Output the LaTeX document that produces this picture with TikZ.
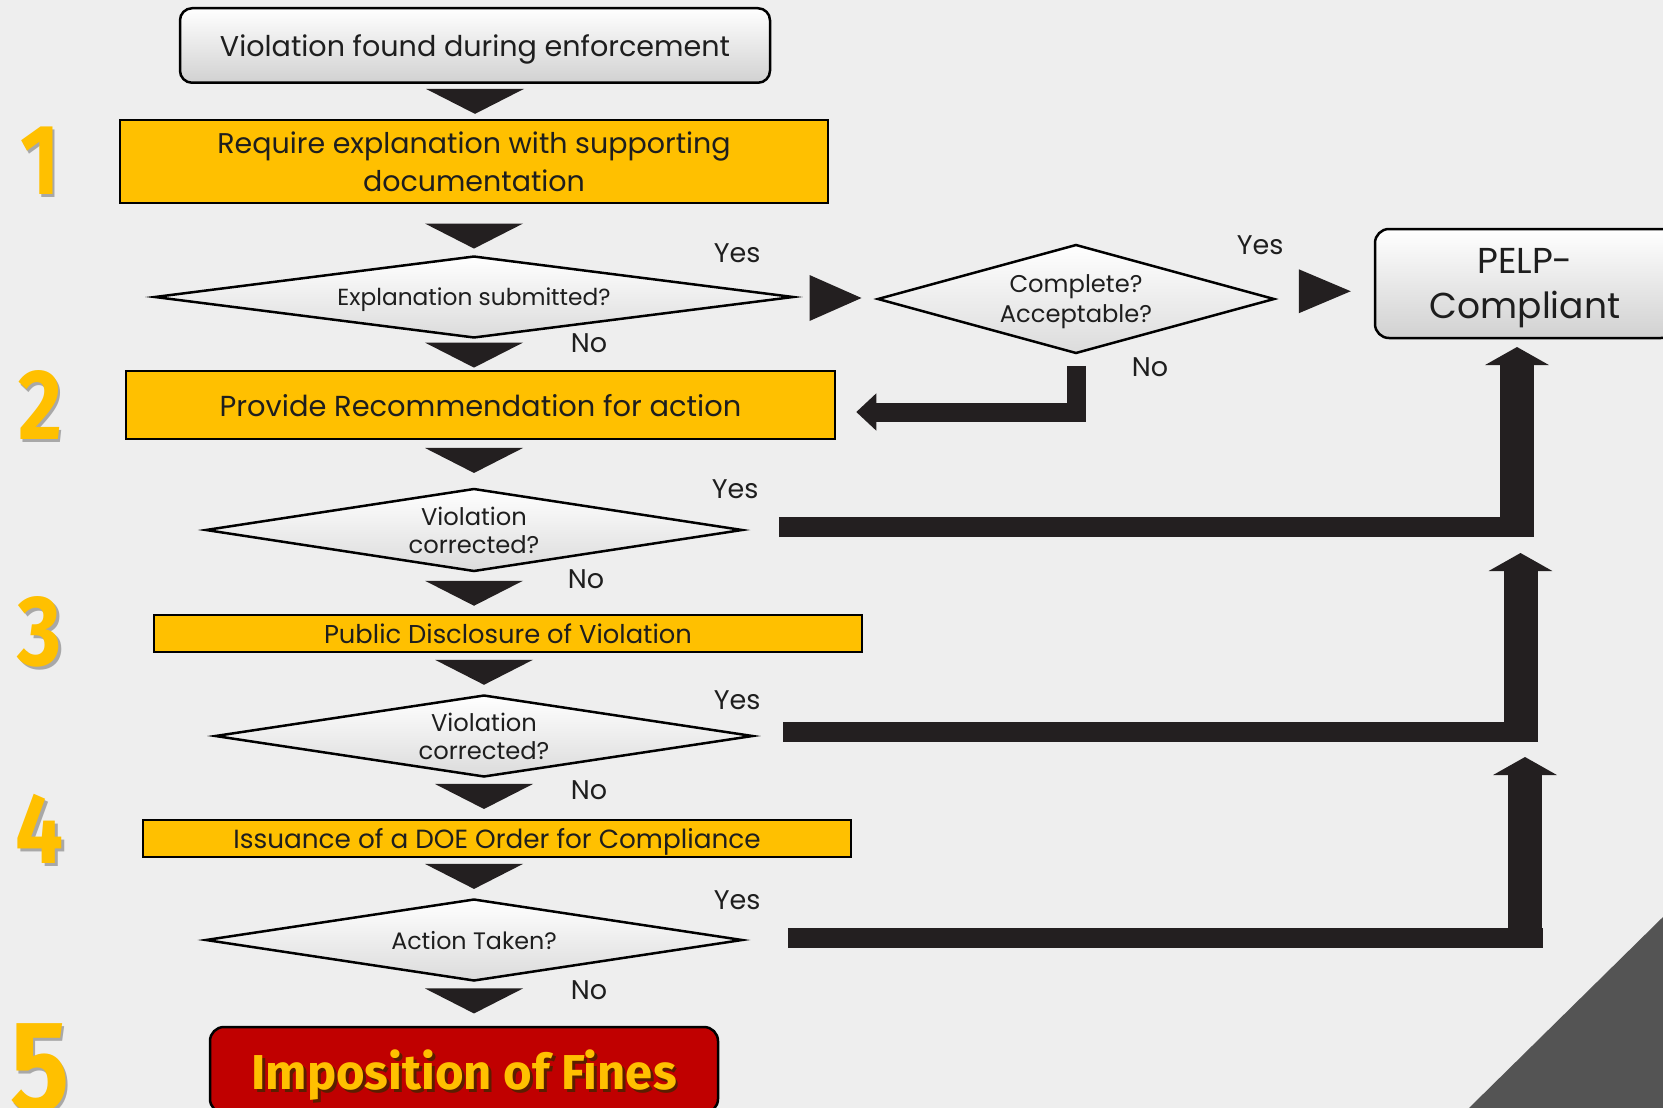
\documentclass[tikz,border=0pt]{standalone}
\usepackage{fontspec}
\usetikzlibrary{positioning,calc,shapes.geometric,arrows.meta}
\newfontfamily\gothic{Poppins}
\newfontfamily\heavy{Fira Sans}
\definecolor{slidebg}{HTML}{EEEEEE}
\definecolor{cornergray}{HTML}{545454}
\definecolor{stepyellow}{HTML}{FFC000}
\definecolor{finered}{HTML}{C00000}
\definecolor{arrowgray}{HTML}{231F20}
\definecolor{textdark}{HTML}{1E1E1E}
\definecolor{numshadow}{HTML}{A8A8A8}
\definecolor{fineshadow}{HTML}{5A1E00}
\newcommand{\dropshadow}[2]{\makebox[0pt][l]{\kern3pt\raisebox{-3pt}{\textcolor{#1}{#2}}}#2}
\newcommand{\pointdown}[4]{%
	\coordinate (#1-#2) at ($(#1.south)!#4!(#2.north)$);
	\fill[pointer] ($(#3 |- #1-#2)+(-49,-12.5)$) -- ($(#3 |- #1-#2)+(49,-12.5)$)
		-- ($(#3 |- #1-#2)+(0,12.5)$) -- cycle;}
\tikzset{
	startbox/.style={rectangle,rounded corners=12pt,draw=black,line width=2.5pt,
		top color=white,middle color=white,bottom color=black!18,inner sep=0pt,
		align=center,text=textdark,text depth=0pt},
	stepbox/.style={rectangle,draw=black,line width=2.5pt,fill=stepyellow,
		inner sep=0pt,align=center,text=textdark,text depth=0pt},
	query/.style={diamond,draw=black,line width=2.5pt,top color=white,
		middle color=white,bottom color=black!14,inner sep=0pt,align=center,
		text=textdark,text depth=0pt},
	finebox/.style={rectangle,rounded corners=14pt,draw=black,line width=2.5pt,
		fill=finered,inner sep=0pt,text=stepyellow,text depth=0pt,
		font=\heavy\bfseries\fontsize{49}{58}\selectfont},
	stepnum/.style={text=stepyellow,inner sep=0pt,
		font=\heavy\bfseries\fontsize{100}{100}\selectfont},
	answer/.style={text=textdark,inner sep=0pt,font=\gothic\fontsize{27}{30}\selectfont},
	pointer/.style={fill=arrowgray},
	yesbar/.style={draw=arrowgray,line width=20pt},
	yesup/.style={draw=arrowgray,line width=34pt,-{Triangle[length=18pt,width=63pt]}},
	nobend/.style={draw=arrowgray,line width=19pt,-{Triangle[length=20pt,width=36pt]}}
}

\begin{document}
\begin{tikzpicture}[x=1pt,y=-1pt]
	\useasboundingbox (0,0) rectangle (1663,1108);
	\fill[slidebg] (0,0) rectangle (1663,1108);
	\fill[cornergray] (1469,1108) -- (1663,917) -- (1663,1108) -- cycle;
	
	\node[startbox,minimum width=590pt,minimum height=74.5pt,
		font=\gothic\fontsize{28.6}{36}\selectfont] (start) at (475,45.5)
		{Violation found during enforcement};
	\node[stepbox,minimum width=708pt,minimum height=83pt,
		font=\gothic\fontsize{28.5}{38}\selectfont] (s1) at (474,161.5)
		{Require explanation with supporting\\documentation};
	\node[query,minimum width=639pt,minimum height=82pt,aspect=7.8,
		font=\gothic\fontsize{23.3}{28}\selectfont] (d1) at (474,297)
		{Explanation submitted?};
	\node[query,minimum width=397pt,minimum height=109pt,aspect=3.6,
		font=\gothic\fontsize{24.2}{30}\selectfont] (d2) at (1076,299)
		{Complete?\\Acceptable?};
	\node[startbox,rounded corners=14pt,minimum width=300pt,minimum height=109pt,
		font=\gothic\fontsize{36}{45}\selectfont] (pelp) at (1525,283.5)
		{PELP-\\Compliant};
	\node[stepbox,minimum width=709pt,minimum height=68pt,
		font=\gothic\fontsize{28.9}{36}\selectfont] (s2) at (480.5,405)
		{Provide Recommendation for action};
	\node[query,minimum width=537pt,minimum height=83pt,aspect=6.5,
		font=\gothic\fontsize{24.2}{28}\selectfont] (d3) at (474,530)
		{Violation\\corrected?};
	\node[stepbox,minimum width=708pt,minimum height=37pt,
		font=\gothic\fontsize{25.8}{30}\selectfont] (s3) at (508,633.5)
		{Public Disclosure of Violation};
	\node[query,minimum width=538pt,minimum height=82pt,aspect=6.5,
		font=\gothic\fontsize{24.2}{28}\selectfont] (d4) at (484,736)
		{Violation\\corrected?};
	\node[stepbox,minimum width=708pt,minimum height=37pt,
		font=\gothic\fontsize{26.3}{30}\selectfont] (s4) at (497,838.5)
		{Issuance of a DOE Order for Compliance};
	\node[query,minimum width=537pt,minimum height=82pt,aspect=6.5,
		font=\gothic\fontsize{23.8}{28}\selectfont] (d5) at (474,940)
		{Action Taken?};
	\node[finebox,minimum width=508pt,minimum height=86pt] (fines) at (464,1070)
		{\dropshadow{fineshadow}{Imposition of Fines}};
	
	% step numbers
	\node[stepnum] (num1) at (40,162) {\scalebox{0.85}[1]{\dropshadow{numshadow}{1}}};
	\node[stepnum] (num2) at (40,406) {\scalebox{0.85}[1]{\dropshadow{numshadow}{2}}};
	\node[stepnum] (num3) at (40,633) {\scalebox{0.85}[1]{\dropshadow{numshadow}{3}}};
	\node[stepnum] (num4) at (40,830) {\scalebox{0.85}[1]{\dropshadow{numshadow}{4}}};
	\node[stepnum,font=\heavy\bfseries\fontsize{130}{130}\selectfont] (num5) at (40,1070)
		{\scalebox{0.85}[1]{\dropshadow{numshadow}{5}}};
	
	% answers
	\node[answer] (yes1) at ($(d1.east)+(-57.5,-44)$) {Yes};
	\node[answer] (no1) at ($(d1.south)+(115,4)$) {No};
	\node[answer] (yes2) at ($(d2.east)+(-15.5,-54)$) {Yes};
	\node[answer] (no2) at ($(d2.south)+(74,12.5)$) {No};
	\node[answer] (yes3) at ($(d3.east)+(-8.5,-41)$) {Yes};
	\node[answer] (no3) at ($(d3.south)+(112,6.5)$) {No};
	\node[answer] (yes4) at ($(d4.east)+(-17,-36)$) {Yes};
	\node[answer] (no4) at ($(d4.south)+(105,12)$) {No};
	\node[answer] (yes5) at ($(d5.east)+(-6.5,-40)$) {Yes};
	\node[answer] (no5) at ($(d5.south)+(115,8)$) {No};
	
	% flow pointers
	\pointdown{start}{s1}{start}{0.5}
	\pointdown{s1}{d1}{d1}{0.63}
	\pointdown{d1}{s2}{d1}{0.52}
	\pointdown{s2}{d3}{d3}{0.43}
	\pointdown{d3}{s3}{d3}{0.5}
	\pointdown{s3}{d4}{d4}{0.47}
	\pointdown{d4}{s4}{d4}{0.45}
	\pointdown{s4}{d5}{d5}{0.46}
	\pointdown{d5}{fines}{d5}{0.43}
	\coordinate (d1-d2) at ($(d1.east)!0.5!(d2.west)$);
	\fill[pointer] ($(d1-d2)+(-26,-23)$) -- ($(d1-d2)+(-26,23)$) -- ($(d1-d2)+(26,0)$) -- cycle;
	\coordinate (d2-pelp) at ($(d2.east)!0.5!(pelp.west)$);
	\fill[pointer] ($(d2-pelp)+(-26,-22)$) -- ($(d2-pelp)+(-26,22)$) -- ($(d2-pelp)+(26,0)$) -- cycle;
	
	% back to step 2
	\draw[nobend] ($(d2.south)+(0,11)$) |- ($(s2.east)+(20,7)$);
	
	% yes arrows to PELP-Compliant
	\coordinate (up1) at (1517,347);
	\coordinate (up2) at (1520.5,553);
	\coordinate (up3) at (1525,757);
	\draw[yesbar] ($(d3.east)+(35,-3.5)$) -- ($(up1 |- d3.east)+(17,-3.5)$);
	\draw[yesup] ($(up1 |- d3.east)+(0,6.5)$) -- (up1);
	\draw[yesbar] ($(d4.east)+(29,-4.5)$) -- ($(up2 |- d4.east)+(17,-4.5)$);
	\draw[yesup] ($(up2 |- d4.east)+(0,5.5)$) -- (up2);
	\draw[yesbar] ($(d5.east)+(44,-2.5)$) -- ($(up3 |- d5.east)+(17.5,-2.5)$);
	\draw[yesup] ($(up3 |- d5.east)+(0,7.5)$) -- (up3);
\end{tikzpicture}
\end{document}
